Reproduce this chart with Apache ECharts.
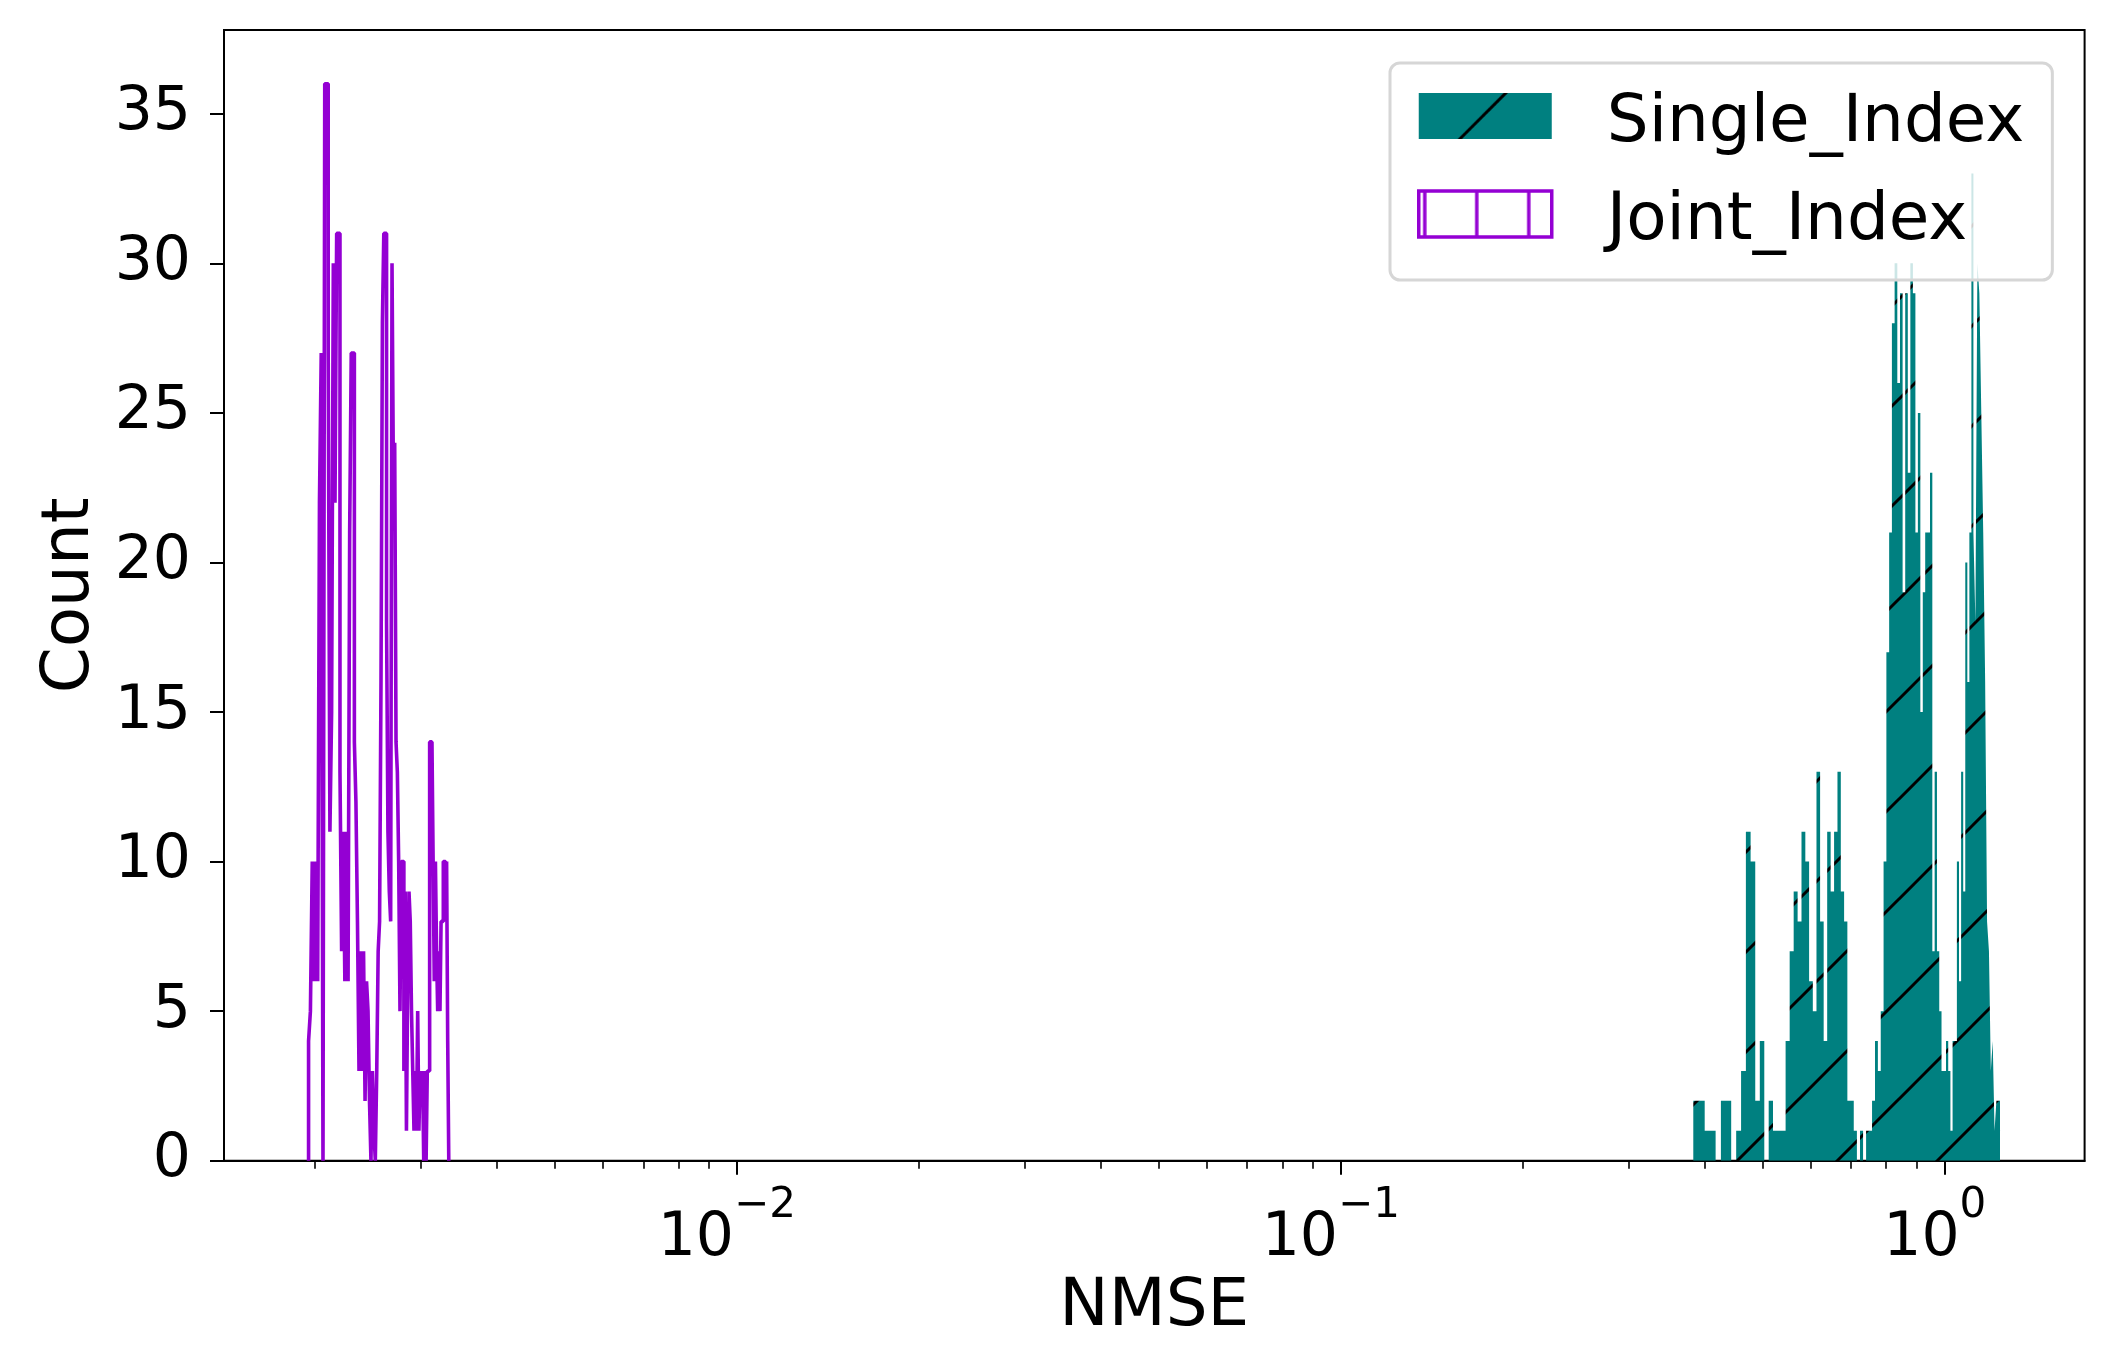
<!DOCTYPE html>
<html>
<head>
<meta charset="utf-8">
<script src="https://cdn.jsdelivr.net/npm/echarts@6/dist/echarts.min.js"></script>
<style>
  html, body { margin: 0; padding: 0; background: #fff; }
  #chart { width: 2114px; height: 1367px; }
</style>
</head>
<body>
<div id="chart"></div>
<script>
// histogram ranges (data min / max of each group) and counts per bin, 100 linear bins each
const singleRange = [0.3834, 1.2346];
const jointRange = [0.001954, 0.003335];

const singleCounts = [
  2, 2, 1, 1, 0, 2, 2, 0, 1, 3,
  11, 10, 2, 4, 0, 2, 1, 1, 1, 4,
  7, 9, 8, 11, 10, 6, 5, 13, 8, 4,
  11, 9, 11, 13, 9, 8, 2, 2, 1, 0,
  1, 0, 1, 1, 2, 4, 3, 5, 10, 17,
  21, 28, 30, 26, 29, 19, 29, 23, 30, 29,
  21, 25, 15, 19, 21, 21, 23, 7, 13, 7,
  5, 3, 3, 4, 3, 1, 4, 4, 10, 6,
  13, 9, 20, 16, 21, 33, 21, 18, 30, 29,
  25, 21, 16, 8, 7, 3, 4, 1, 2, 2
];

const jointCounts = [
  4, 5, 10, 6, 10, 6, 22, 27, 0, 36,
  36, 27, 11, 15, 30, 22, 31, 31, 13, 7,
  11, 6, 11, 6, 21, 27, 27, 14, 12, 8,
  3, 7, 3, 7, 2, 6, 5, 2, 0, 3,
  1, 0, 3, 7, 8, 16, 28, 31, 31, 18,
  11, 9, 8, 30, 23, 24, 14, 13, 10, 5,
  10, 10, 3, 9, 1, 6, 9, 8, 5, 3,
  1, 3, 1, 5, 1, 3, 2, 3, 0, 3,
  0, 3, 3, 14, 14, 14, 10, 6, 10, 7,
  5, 7, 5, 8, 8, 10, 10, 8, 10, 4
];

const yTicks = [0, 5, 10, 15, 20, 25, 30, 35];
const xMajorTicks = [0.01, 0.1, 1];
const xMinorTicks = [
  0.002, 0.003, 0.004, 0.005, 0.006, 0.007, 0.008, 0.009,
  0.02, 0.03, 0.04, 0.05, 0.06, 0.07, 0.08, 0.09,
  0.2, 0.3, 0.4, 0.5, 0.6, 0.7, 0.8, 0.9
];
const xMin = 0.0014155;
const xMax = 1.7043;
const yMax = 37.8;

const TEAL = '#008080';
const PURPLE = '#9400D3';
const FONT = 'DejaVu Sans';

// hatch '/' : teal ground, black diagonals every 100px
function diagHatch(phase) {
  const c = document.createElement('canvas');
  c.width = 100; c.height = 100;
  const ctx = c.getContext('2d');
  ctx.fillStyle = TEAL;
  ctx.fillRect(0, 0, 100, 100);
  ctx.strokeStyle = '#000';
  ctx.lineWidth = 3;
  [-100, 0, 100].forEach(k => {
    const s = phase + k;
    ctx.beginPath();
    ctx.moveTo(-20, s + 20);
    ctx.lineTo(s + 20, -20);
    ctx.stroke();
  });
  return c;
}

// hatch '|' : vertical purple lines
function vertHatch(offset) {
  const c = document.createElement('canvas');
  c.width = 52; c.height = 10;
  const ctx = c.getContext('2d');
  ctx.fillStyle = '#fff';
  ctx.fillRect(0, 0, 52, 10);
  ctx.fillStyle = PURPLE;
  ctx.fillRect(offset - 1.7, 0, 3.4, 10);
  return c;
}

function binEdges(range, n) {
  const w = (range[1] - range[0]) / n;
  return Array.from({length: n + 1}, (v, i) => range[0] + i * w);
}

// points for a step line (step: 'end') outlining the histogram
function stepPoints(range, counts) {
  const n = counts.length;
  const e = binEdges(range, n);
  const pts = [[e[0], 0]];
  for (let i = 0; i < n; i++) {
    pts.push([e[i], counts[i]]);
  }
  pts.push([e[n], counts[n - 1]]);
  pts.push([e[n], 0]);
  return pts;
}

const chart = echarts.init(document.getElementById('chart'), null, {renderer: 'canvas'});

const option = {
  animation: false,
  backgroundColor: '#fff',
  textStyle: {fontFamily: FONT},
  grid: {
    left: 224, top: 30, right: 29.4, bottom: 206.3,
    show: true, borderColor: '#000', borderWidth: 2,
    backgroundColor: 'transparent'
  },
  legend: {
    orient: 'vertical',
    left: 1390, top: 63,
    padding: [12, 28, 25, 27],
    itemGap: 16,
    itemWidth: 133, itemHeight: 46,
    backgroundColor: 'rgba(255,255,255,0.8)',
    borderColor: '#d6d6d6', borderWidth: 3, borderRadius: 10,
    formatter: name => '{t|' + name + '}',
    textStyle: {
      fontSize: 66, fontFamily: FONT, color: '#000',
      rich: {t: {fontSize: 66, fontFamily: FONT, color: '#000', lineHeight: 66, padding: [16, 0, 0, 50]}}
    },
    selectedMode: false,
    data: [
      {name: 'Single_Index', icon: 'rect',
        itemStyle: {color: {image: diagHatch(87), repeat: 'repeat'}, borderWidth: 0}},
      {name: 'Joint_Index', icon: 'rect',
        itemStyle: {color: {image: vertHatch(6), repeat: 'repeat'}, borderColor: PURPLE, borderWidth: 3.5}}
    ]
  },
  xAxis: [
    {
      type: 'log', logBase: 10, min: xMin, max: xMax,
      name: 'NMSE', nameLocation: 'middle', nameGap: 100,
      nameTextStyle: {fontSize: 66, fontFamily: FONT, color: '#000'},
      axisLine: {show: true, lineStyle: {color: '#000', width: 2}},
      axisTick: {show: true, customValues: xMajorTicks, length: 14, lineStyle: {color: '#000', width: 2}},
      axisLabel: {
        customValues: xMajorTicks, margin: 24, color: '#000',
        padding: [0, 20, 0, 0],
        formatter: v => {
          const e = Math.round(Math.log10(v));
          return '{b|10}{s|' + (e < 0 ? '\u2212' + (-e) : e) + '}';
        },
        rich: {
          b: {fontSize: 60, fontFamily: FONT, color: '#000', lineHeight: 110},
          s: {fontSize: 42, fontFamily: FONT, color: '#000', lineHeight: 42, verticalAlign: 'top'}
        }
      },
      splitLine: {show: false},
      minorTick: {show: false}
    },
    {
      type: 'log', logBase: 10, min: xMin, max: xMax, position: 'bottom',
      axisLine: {show: false},
      axisTick: {show: true, customValues: xMinorTicks, length: 8, lineStyle: {color: '#000', width: 1.6}},
      axisLabel: {show: false},
      splitLine: {show: false}
    }
  ],
  yAxis: {
    type: 'value', min: 0, max: yMax,
    name: 'Count', nameLocation: 'middle', nameRotate: 90, nameGap: 118,
    nameTextStyle: {fontSize: 66, fontFamily: FONT, color: '#000'},
    axisLine: {show: true, lineStyle: {color: '#000', width: 2}},
    axisTick: {show: true, customValues: yTicks, length: 14, lineStyle: {color: '#000', width: 2}},
    axisLabel: {customValues: yTicks, fontSize: 60, fontFamily: FONT, color: '#000', margin: 33},
    splitLine: {show: false}
  },
  series: [
    {
      name: 'Single_Index', type: 'line', xAxisIndex: 0, step: 'end',
      symbol: 'none', silent: true,
      data: stepPoints(singleRange, singleCounts),
      itemStyle: {color: TEAL},
      lineStyle: {width: 0, opacity: 0},
      areaStyle: {color: {image: diagHatch(98), repeat: 'repeat'}, opacity: 1}
    },
    {
      name: 'Joint_Index', type: 'line', xAxisIndex: 0, step: 'end',
      symbol: 'none', silent: true,
      data: stepPoints(jointRange, jointCounts),
      itemStyle: {color: PURPLE},
      lineStyle: {color: PURPLE, width: 3.6}
    }
  ]
};

chart.setOption(option);
</script>
</body>
</html>
